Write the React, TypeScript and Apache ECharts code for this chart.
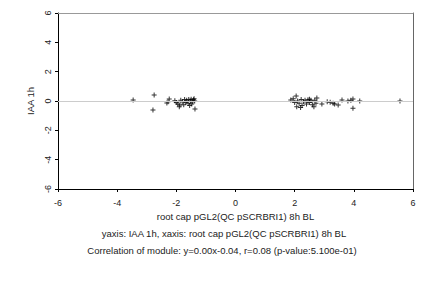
import React, { useEffect, useRef } from "react";
import * as echarts from "echarts";

const xTicks = [-6, -4, -2, 0, 2, 4, 6];
const yTicks = [-6, -4, -2, 0, 2, 4, 6];

const leftX = [-3.46, -2.75, -2.79, -2.32, -2.24, -2.28, -2.0, -1.95, -1.9, -1.85, -1.8, -1.75, -1.72, -1.68, -1.65, -1.6, -1.58, -1.55, -1.52, -1.5, -1.48, -1.45, -1.42, -1.4, -1.37, -1.38, -2.05, -1.88];
const leftY = [0.07, 0.41, -0.61, -0.14, 0.14, -0.05, -0.1, -0.2, -0.4, 0.05, -0.05, -0.25, 0.1, -0.1, 0.05, -0.15, 0.1, -0.3, 0.0, 0.12, -0.2, -0.05, 0.08, 0.15, -0.55, 0.0, 0.02, -0.28];
const rightX = [1.87, 1.95, 2.05, 2.0, 2.07, 2.1, 2.15, 2.2, 2.22, 2.3, 2.35, 2.4, 2.45, 2.5, 2.55, 2.6, 2.65, 2.68, 2.75, 2.72, 2.92, 3.1, 3.2, 3.3, 3.35, 3.47, 3.6, 3.8, 3.9, 3.97, 3.97, 4.2, 5.56, 2.25, 2.5];
const rightY = [0.07, 0.15, 0.34, -0.1, -0.4, 0.0, -0.15, -0.45, 0.1, -0.05, 0.05, -0.2, 0.08, -0.1, 0.05, -0.25, -0.4, 0.05, 0.2, -0.15, -0.2, -0.05, -0.08, -0.15, -0.2, -0.27, 0.07, 0.0, 0.05, 0.14, -0.5, 0.0, 0.0, -0.3, 0.12];

const xName = "root cap pGL2(QC pSCRBRI1) 8h BL";
const yName = "IAA 1h";
const caption1 = "yaxis: IAA 1h, xaxis: root cap pGL2(QC pSCRBRI1) 8h BL";
const caption2 = "Correlation of module: y=0.00x-0.04, r=0.08 (p-value:5.100e-01)";

const FONT = "Liberation Sans, Arial, sans-serif";
const FS = 9.5;
const TFS = 9;

export default function App() {
  const ref = useRef<HTMLDivElement>(null);
  useEffect(() => {
    if (!ref.current) return;
    const chart = echarts.init(ref.current, undefined, { renderer: "svg" });
    const pts = [
      ...leftX.map((x, i) => [x, leftY[i]]),
      ...rightX.map((x, i) => [x, rightY[i]]),
    ];
    chart.setOption({
      animation: false,
      textStyle: { fontFamily: FONT },
      grid: { left: 58, right: 19, top: 13, bottom: 99 },
      title: [
        {
          text: caption1,
          left: 224,
          top: 228,
          padding: 0,
          textAlign: "center",
          textStyle: { fontSize: FS, fontWeight: "normal", color: "#222", fontFamily: FONT },
        },
        {
          text: caption2,
          left: 222,
          top: 245,
          padding: 0,
          textAlign: "center",
          textStyle: { fontSize: FS, fontWeight: "normal", color: "#222", fontFamily: FONT },
        },
      ],
      xAxis: [
        {
          type: "value",
          min: xTicks[0],
          max: xTicks[xTicks.length - 1],
          interval: 2,
          name: xName,
          nameLocation: "middle",
          nameGap: 21,
          nameTextStyle: { fontSize: FS, color: "#222", fontFamily: FONT },
          axisLine: { onZero: false, lineStyle: { color: "#000", width: 1 } },
          axisTick: { length: 3, lineStyle: { color: "#000" } },
          axisLabel: { fontSize: TFS, color: "#222", margin: 9, fontFamily: FONT },
          splitLine: { show: false },
        },
        {
          type: "value",
          position: "top",
          min: xTicks[0],
          max: xTicks[xTicks.length - 1],
          axisLine: { onZero: false, lineStyle: { color: "#999", width: 1 } },
          axisTick: { show: false },
          axisLabel: { show: false },
          splitLine: { show: false },
        },
      ],
      yAxis: [
        {
          type: "value",
          min: yTicks[0],
          max: yTicks[yTicks.length - 1],
          interval: 2,
          name: yName,
          nameLocation: "middle",
          nameGap: 13,
          nameRotate: 90,
          nameTextStyle: { fontSize: FS, color: "#222", fontFamily: FONT },
          axisLine: { onZero: false, lineStyle: { color: "#000", width: 1 } },
          axisTick: { length: 3, lineStyle: { color: "#000" } },
          axisLabel: { fontSize: TFS, color: "#222", margin: 6, rotate: 90, fontFamily: FONT },
          splitLine: { show: false },
        },
        {
          type: "value",
          position: "right",
          min: yTicks[0],
          max: yTicks[yTicks.length - 1],
          axisLine: { onZero: false, lineStyle: { color: "#666", width: 1 } },
          axisTick: { show: false },
          axisLabel: { show: false },
          splitLine: { show: false },
        },
      ],
      series: [
        {
          type: "scatter",
          data: pts,
          symbol: "path://M0,2H5V3H0Z M2,0H3V5H2Z",
          symbolSize: 5,
          itemStyle: { color: "#000" },
          markLine: {
            silent: true,
            symbol: "none",
            label: { show: false },
            lineStyle: { color: "#ccc", width: 1, type: "solid" },
            data: [{ yAxis: 0 }],
          },
          z: 3,
        },
      ],
    });
    return () => chart.dispose();
  }, []);
  return <div ref={ref} style={{ width: 432, height: 288, margin: -8 }} />;
}
